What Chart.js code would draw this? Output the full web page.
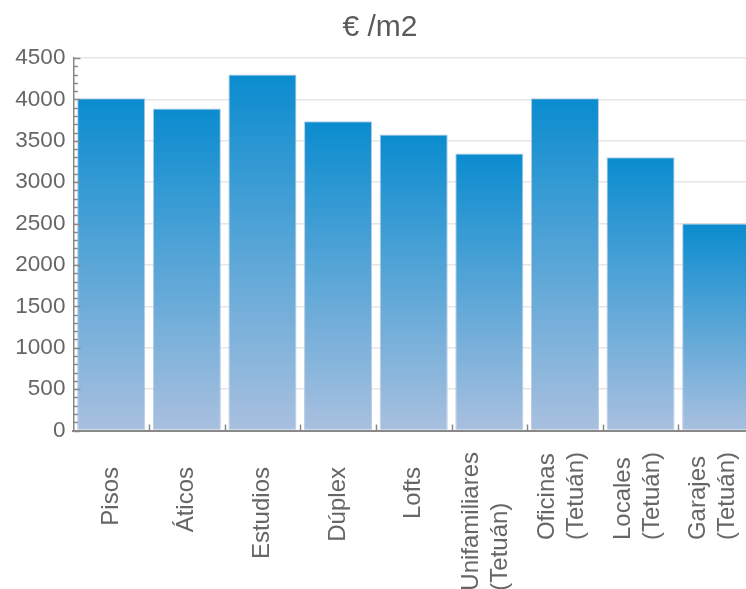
<!DOCTYPE html>
<html>
<head>
<meta charset="utf-8">
<script src="https://cdn.jsdelivr.net/npm/chart.js@4/dist/chart.umd.min.js"></script>
<style>
  html, body { margin: 0; padding: 0; background: #fff; overflow: hidden; }
  #wrap { width: 746px; height: 589px; overflow: hidden; }
</style>
</head>
<body>
<div id="wrap"><canvas id="c" width="754" height="589"></canvas></div>
<script>
const categories = [
  'Pisos', 'Áticos', 'Estudios', 'Dúplex', 'Lofts',
  ['Unifamiliares', '(Tetuán)'], ['Oficinas', '(Tetuán)'],
  ['Locales', '(Tetuán)'], ['Garajes', '(Tetuán)']
];
const pricePerM2 = [4015, 3890, 4300, 3735, 3575, 3345, 4015, 3300, 2500];
const yTicks = [0, 500, 1000, 1500, 2000, 2500, 3000, 3500, 4000, 4500];
const minorStep = 100;
const titleText = '€ /m2';

const FONT = '"Liberation Sans", Arial, Helvetica, sans-serif';
const TEXT = '#666666';
const AXIS = '#888888';

function barGradient(ctx) {
  const chart = ctx.chart;
  if (!chart.chartArea || ctx.raw === undefined) return '#0a8ccf';
  const ys = chart.scales.y;
  const top = ys.getPixelForValue(ctx.raw);
  const bot = ys.getPixelForValue(0);
  const g = chart.ctx.createLinearGradient(0, top, 0, bot);
  g.addColorStop(0, '#0a8ccf');
  g.addColorStop(1, '#a9c0df');
  return g;
}

const decorations = {
  id: 'decorations',
  afterDraw(chart) {
    const c = chart.ctx;
    const ys = chart.scales.y, xs = chart.scales.x;
    const left = chart.chartArea.left, bottom = chart.chartArea.bottom;
    c.save();
    c.strokeStyle = AXIS;
    c.lineWidth = 1.5;
    // y minor / major ticks inside
    for (let v = ys.min; v <= ys.max + 0.001; v += minorStep) {
      const y = Math.round(ys.getPixelForValue(v)) + 0.5;
      const major = yTicks.includes(v);
      c.beginPath();
      c.moveTo(left, y);
      c.lineTo(left + (major ? 7 : 4.5), y);
      c.stroke();
    }
    // category boundary ticks at bottom
    for (let i = 0; i < categories.length - 1; i++) {
      const x = Math.round((xs.getPixelForValue(i) + xs.getPixelForValue(i + 1)) / 2) + 0.5;
      c.beginPath();
      c.moveTo(x, bottom);
      c.lineTo(x, bottom - 6);
      c.stroke();
    }
    // x labels, rotated
    c.fillStyle = TEXT;
    c.font = '24px ' + FONT;
    c.textBaseline = 'middle';
    const lh = 29;
    categories.forEach((lab, i) => {
      const lines = Array.isArray(lab) ? lab : [lab];
      const cx = xs.getPixelForValue(i);
      const n = lines.length;
      if (n === 1) {
        c.save();
        c.translate(cx, 467);
        c.rotate(-Math.PI / 2);
        c.textAlign = 'right';
        c.fillText(lines[0], 0, 0);
        c.restore();
      } else {
        const maxW = Math.max(...lines.map(l => c.measureText(l).width));
        const startY = 452 + maxW;
        lines.forEach((l, j) => {
          const x = cx - 3 - (n - 1) * lh / 2 + j * lh;
          c.save();
          c.translate(x, startY);
          c.rotate(-Math.PI / 2);
          c.textAlign = 'left';
          c.fillText(l, 0, 0);
          c.restore();
        });
      }
    });
    c.restore();
  }
};

new Chart(document.getElementById('c'), {
  type: 'bar',
  data: {
    labels: categories,
    datasets: [{
      data: pricePerM2,
      backgroundColor: barGradient,
      borderColor: 'rgba(176,196,222,0.9)',
      borderWidth: 1,
      barPercentage: 0.9,
      categoryPercentage: 1.0
    }]
  },
  options: {
    responsive: false,
    animation: false,
    devicePixelRatio: 1,
    layout: { padding: { left: 6, right: 0, top: 0, bottom: 0 } },
    plugins: {
      legend: { display: false },
      tooltip: { enabled: false },
      title: {
        display: true,
        text: titleText,
        color: '#5a5a5a',
        font: { family: FONT, size: 30, weight: 'normal', lineHeight: 1.2 },
        padding: { top: 10, bottom: 12 }
      }
    },
    scales: {
      x: {
        offset: true,
        grid: { display: false, drawTicks: false },
        border: { display: true, color: AXIS, width: 2 },
        ticks: { display: false },
        afterFit(s) { s.height = 158.5; }
      },
      y: {
        min: 0,
        max: 4500,
        afterBuildTicks(s) { s.ticks = yTicks.map(v => ({ value: v })); },
        grid: { color: '#e6e6e6', lineWidth: 1.5, drawTicks: false },
        border: { display: true, color: AXIS, width: 1.5 },
        ticks: {
          color: TEXT,
          padding: 8,
          font: { family: FONT, size: 22.5 },
          callback: (v) => String(v)
        },
        afterFit(s) { s.width = 67.4; }
      }
    }
  },
  plugins: [decorations]
});
</script>
</body>
</html>
